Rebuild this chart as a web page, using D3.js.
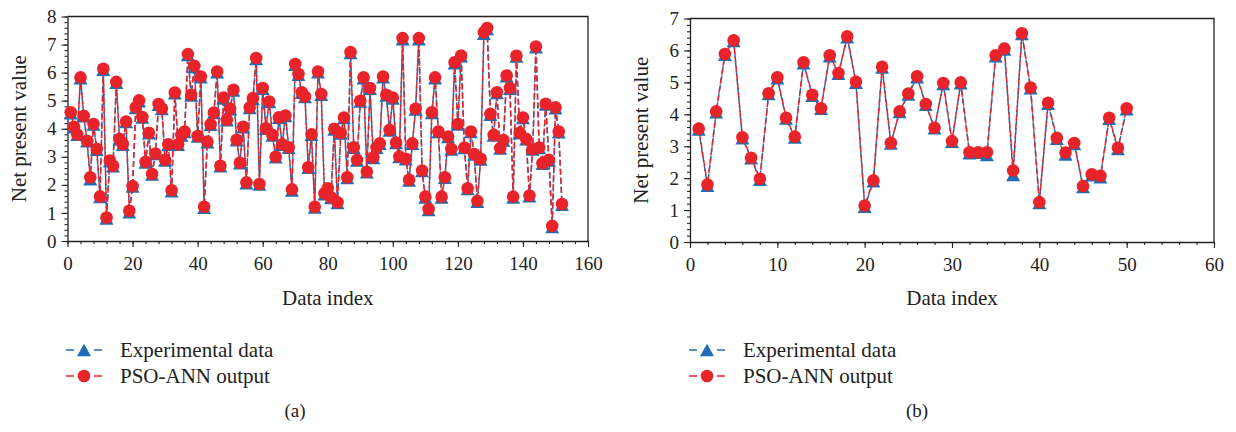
<!DOCTYPE html>
<html>
<head>
<meta charset="utf-8">
<script src="https://cdn.jsdelivr.net/npm/d3@7/dist/d3.min.js"></script>
<style>
  html, body { margin: 0; padding: 0; background: #fff; }
  svg { display: block; }
  text { font-family: "Liberation Serif", "DejaVu Serif", serif; fill: #222; }
</style>
</head>
<body>
<svg id="chart" width="1236" height="432"></svg>
<script>
// ---- Panel (a): training set, 152 samples ----
const pso_a = [
  4.59, 4.07, 3.80, 5.83, 4.46, 3.57, 2.27, 4.17, 3.28, 1.59,
  6.14, 0.84, 2.87, 2.68, 5.67, 3.64, 3.45, 4.26, 1.08, 1.96,
  4.77, 5.01, 4.42, 2.82, 3.86, 2.39, 3.12, 4.88, 4.72, 2.89,
  3.45, 1.81, 5.29, 3.45, 3.78, 3.90, 6.66, 5.21, 6.24, 3.74,
  5.86, 1.22, 3.54, 4.16, 4.58, 6.04, 2.68, 5.11, 4.32, 4.71,
  5.39, 3.61, 2.79, 4.07, 2.09, 4.76, 5.09, 6.52, 2.03, 5.45,
  4.02, 4.97, 3.78, 3.00, 4.41, 3.45, 4.47, 3.34, 1.84, 6.31,
  5.95, 5.30, 5.15, 2.63, 3.80, 1.22, 6.04, 5.24, 1.70, 1.88,
  1.56, 4.00, 1.38, 3.85, 4.40, 2.27, 6.73, 3.34, 2.89, 5.00,
  5.83, 2.47, 5.45, 2.98, 3.34, 3.48, 5.86, 5.21, 3.96, 5.11,
  3.51, 3.01, 7.23, 2.93, 2.18, 3.48, 4.71, 7.23, 2.51, 1.58,
  1.14, 4.59, 5.83, 3.90, 1.58, 2.27, 3.72, 3.28, 6.37, 4.17,
  6.61, 3.33, 1.88, 3.90, 3.10, 1.43, 2.93, 7.44, 7.59, 4.53,
  3.78, 5.30, 3.31, 3.60, 5.90, 5.45, 1.58, 6.60, 3.86, 4.40,
  3.64, 1.62, 3.28, 6.93, 3.33, 2.77, 4.89, 2.89, 0.54, 4.76,
  3.90, 1.32
];
const exp_a = [
  4.55, 4.05, 3.78, 5.80, 4.44, 3.55, 2.20, 4.15, 3.25, 1.57,
  6.10, 0.80, 2.85, 2.66, 5.64, 3.62, 3.43, 4.24, 1.02, 1.94,
  4.74, 4.98, 4.40, 2.80, 3.84, 2.37, 3.10, 4.85, 4.70, 2.87,
  3.43, 1.77, 5.26, 3.43, 3.76, 3.88, 6.63, 5.18, 6.20, 3.72,
  5.83, 1.18, 3.52, 4.14, 4.56, 6.01, 2.66, 5.08, 4.30, 4.69,
  5.36, 3.59, 2.77, 4.05, 2.06, 4.74, 5.06, 6.48, 2.01, 5.42,
  4.00, 4.95, 3.76, 2.98, 4.39, 3.43, 4.45, 3.32, 1.80, 6.28,
  5.92, 5.28, 5.13, 2.61, 3.78, 1.19, 6.01, 5.21, 1.66, 1.85,
  1.53, 3.97, 1.35, 3.83, 4.38, 2.24, 6.70, 3.32, 2.87, 4.97,
  5.80, 2.45, 5.42, 2.96, 3.32, 3.46, 5.83, 5.18, 3.94, 5.08,
  3.49, 2.99, 7.19, 2.91, 2.15, 3.46, 4.68, 7.19, 2.49, 1.55,
  1.10, 4.56, 5.80, 3.88, 1.55, 2.25, 3.70, 3.26, 6.33, 4.15,
  6.58, 3.31, 1.85, 3.88, 3.08, 1.40, 2.90, 7.38, 7.55, 4.50,
  3.76, 5.27, 3.29, 3.58, 5.87, 5.42, 1.55, 6.57, 3.84, 4.38,
  3.62, 1.59, 3.26, 6.90, 3.31, 2.75, 4.86, 2.87, 0.50, 4.73,
  3.87, 1.29
];

// ---- Panel (b): testing set, 50 samples ----
const pso_b = [
  3.55, 1.80, 4.09, 5.89, 6.32, 3.28, 2.64, 1.98, 4.66, 5.16,
  3.89, 3.30, 5.63, 4.61, 4.19, 5.85, 5.29, 6.44, 5.02, 1.14,
  1.93, 5.49, 3.10, 4.09, 4.65, 5.19, 4.32, 3.58, 4.98, 3.16,
  5.00, 2.81, 2.81, 2.81, 5.85, 6.06, 2.24, 6.54, 4.84, 1.25,
  4.36, 3.26, 2.80, 3.10, 1.75, 2.12, 2.07, 3.89, 2.95, 4.19
];
const exp_b = [
  3.52, 1.76, 4.06, 5.86, 6.29, 3.25, 2.62, 1.95, 4.63, 5.13,
  3.87, 3.27, 5.60, 4.58, 4.17, 5.82, 5.27, 6.41, 4.99, 1.10,
  1.90, 5.46, 3.08, 4.07, 4.62, 5.16, 4.30, 3.56, 4.95, 3.14,
  4.97, 2.78, 2.79, 2.72, 5.82, 6.03, 2.10, 6.51, 4.81, 1.22,
  4.33, 3.23, 2.74, 3.07, 1.72, 2.09, 2.03, 3.86, 2.91, 4.16
];

const xTicksA = [0, 20, 40, 60, 80, 100, 120, 140, 160];
const yTicksA = [0, 1, 2, 3, 4, 5, 6, 7, 8];
const xTicksB = [0, 10, 20, 30, 40, 50, 60];
const yTicksB = [0, 1, 2, 3, 4, 5, 6, 7];

const seriesNames = ["Experimental data", "PSO-ANN output"];
const axisTitleX = "Data index";
const axisTitleY = "Net present value";

const BLUE = "#1f6db5";
const RED = "#e8232a";

const svg = d3.select("#chart");

// upward triangle centred on its bounding box
function triPath(cx, cy) {
  const w = 7, h = 6.2;
  return `M${cx},${cy - h}L${cx + w},${cy + h}L${cx - w},${cy + h}Z`;
}

function drawPanel(cfg) {
  const g = svg.append("g");
  const x = d3.scaleLinear().domain(cfg.xDomain).range(cfg.xRange);
  const y = d3.scaleLinear().domain(cfg.yDomain).range(cfg.yRange);
  const [x0, x1] = cfg.xRange;
  const [y0, y1] = cfg.yRange;

  // minor ticks
  const xMinor = d3.range(cfg.xDomain[0], cfg.xDomain[1] + 1e-9, cfg.xMinorStep);
  const yMinor = d3.range(cfg.yDomain[0], cfg.yDomain[1] + 1e-9, cfg.yMinorStep);
  g.append("g").attr("transform", `translate(0,${y0})`)
    .call(d3.axisBottom(x).tickValues(xMinor).tickSize(3).tickSizeOuter(0).tickFormat(""))
    .call(s => s.select(".domain").remove());
  g.append("g").attr("transform", `translate(${x0},0)`)
    .call(d3.axisLeft(y).tickValues(yMinor).tickSize(3).tickSizeOuter(0).tickFormat(""))
    .call(s => s.select(".domain").remove());

  // major axes
  const ax = g.append("g").attr("transform", `translate(0,${y0})`)
    .call(d3.axisBottom(x).tickValues(cfg.xTicks).tickSize(6).tickSizeOuter(0).tickPadding(10).tickFormat(d3.format("d")));
  const ay = g.append("g").attr("transform", `translate(${x0},0)`)
    .call(d3.axisLeft(y).tickValues(cfg.yTicks).tickSize(6).tickSizeOuter(0).tickPadding(5).tickFormat(d3.format("d")));
  [ax, ay].forEach(a => {
    a.selectAll("text").style("font-family", '"Liberation Serif", serif').style("font-size", "19px").attr("fill", "#222");
    a.selectAll("line").attr("stroke", "#222");
    a.select(".domain").attr("stroke", "#222").attr("stroke-width", 1.3);
  });
  g.selectAll(".tick line").attr("stroke", "#222").attr("stroke-width", 1.1);

  // frame top and right
  g.append("path")
    .attr("d", `M${x0},${y1}H${x1}V${y0}`)
    .attr("fill", "none").attr("stroke", "#222").attr("stroke-width", 1.3);

  const idx = d3.range(1, cfg.pso.length + 1);
  const line = d3.line().x(d => x(d[0])).y(d => y(d[1]));
  const expPts = idx.map((i, k) => [i, cfg.exp[k]]);
  const psoPts = idx.map((i, k) => [i, cfg.pso[k]]);

  g.append("path").attr("d", line(expPts)).attr("fill", "none")
    .attr("stroke", BLUE).attr("stroke-width", 1.5).attr("stroke-dasharray", "6,3");
  g.append("path").attr("d", line(psoPts)).attr("fill", "none")
    .attr("stroke", RED).attr("stroke-width", 1.5).attr("stroke-dasharray", "6,3").attr("stroke-dashoffset", 4);

  g.append("g").selectAll("path").data(expPts).join("path")
    .attr("d", d => triPath(x(d[0]), y(d[1]))).attr("fill", BLUE);
  g.append("g").selectAll("circle").data(psoPts).join("circle")
    .attr("cx", d => x(d[0])).attr("cy", d => y(d[1])).attr("r", 6.3).attr("fill", RED);

  // axis titles
  g.append("text").attr("x", (x0 + x1) / 2).attr("y", 298)
    .attr("text-anchor", "middle").attr("dominant-baseline", "central")
    .style("font-size", "21px").text(axisTitleX);
  g.append("text")
    .attr("transform", `translate(${cfg.yTitleX},${(y0 + y1) / 2}) rotate(-90)`)
    .attr("text-anchor", "middle").attr("dominant-baseline", "central")
    .style("font-size", "21px").text(axisTitleY);

  // legend
  const lx = cfg.legendX;
  [0, 1].forEach(k => {
    const ly = 350 + k * 26;
    const col = k === 0 ? BLUE : RED;
    g.append("line").attr("x1", lx).attr("x2", lx + 36).attr("y1", ly).attr("y2", ly)
      .attr("stroke", col).attr("stroke-width", 1.5).attr("stroke-dasharray", "8,20");
    if (k === 0) g.append("path").attr("d", triPath(lx + 18, ly)).attr("fill", BLUE);
    else g.append("circle").attr("cx", lx + 18).attr("cy", ly).attr("r", 6.3).attr("fill", RED);
    g.append("text").attr("x", lx + 54).attr("y", ly)
      .attr("dominant-baseline", "central").style("font-size", "21px").text(seriesNames[k]);
  });

  g.append("text").attr("x", cfg.captionX).attr("y", 410)
    .attr("text-anchor", "middle").attr("dominant-baseline", "central")
    .style("font-size", "19px").text(cfg.caption);
}

drawPanel({
  xDomain: [0, 160], xRange: [67.5, 588], yDomain: [0, 8], yRange: [241, 16.5],
  xTicks: xTicksA, yTicks: yTicksA, xMinorStep: 4, yMinorStep: 0.2,
  pso: pso_a, exp: exp_a, yTitleX: 19, legendX: 66, caption: "(a)", captionX: 295
});
drawPanel({
  xDomain: [0, 60], xRange: [690, 1214], yDomain: [0, 7], yRange: [242, 18.5],
  xTicks: xTicksB, yTicks: yTicksB, xMinorStep: 2, yMinorStep: 0.2,
  pso: pso_b, exp: exp_b, yTitleX: 641, legendX: 689, caption: "(b)", captionX: 917
});
</script>
</body>
</html>
